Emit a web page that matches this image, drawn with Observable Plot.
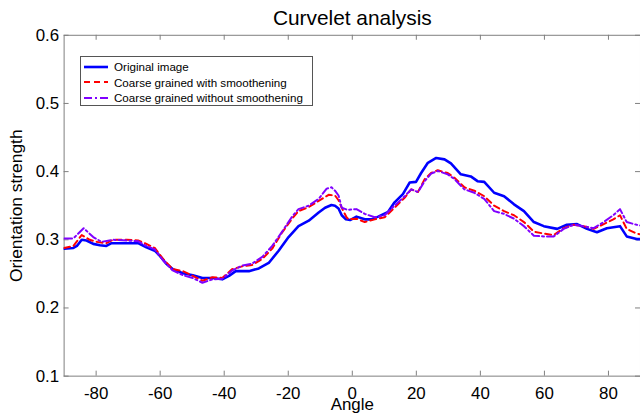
<!DOCTYPE html>
<html>
<head>
<meta charset="utf-8">
<script src="https://cdn.jsdelivr.net/npm/d3@7"></script>
<script src="https://cdn.jsdelivr.net/npm/@observablehq/plot@0.6"></script>
<style>
  html, body { margin: 0; padding: 0; background: #fff; }
  #wrap { position: relative; width: 640px; height: 418px; overflow: hidden; font-family: "Liberation Sans", Arial, sans-serif; }
  #legend { position: absolute; left: 80px; top: 56px; width: 231px; height: 48px; border: 1px solid #555; background: #fff; font-size: 11.6px; }
  #legend .row { position: absolute; left: 3px; height: 15px; display: flex; align-items: center; white-space: nowrap; }
  #legend svg { margin-right: 6px; }
</style>
</head>
<body>
<div id="wrap"><div id="chart"></div><div id="legend"></div></div>
<script>
const titleText = "Curvelet analysis";
const xLabel = "Angle";
const yLabel = "Orientation strength";
const xTicks = [-80, -60, -40, -20, 0, 20, 40, 60, 80];
const yTicks = [0.1, 0.2, 0.3, 0.4, 0.5, 0.6];

const seriesNames = ["Original image", "Coarse grained with smoothening", "Coarse grained without smoothening"];
const seriesColors = ["#0000ff", "#ff0000", "#8000ff"];
const seriesDash = [null, "6,4", "8,3,2,3"];
const seriesWidth = [2.6, 2, 2];

const originalAngle = [-90, -87.1, -86, -84.5, -83, -80.9, -78.8, -76.8, -75.2, -72.6, -70.5, -66.9, -64.3, -61.7, -60.2, -58.1, -56.1, -52.9, -49.8, -46.8, -43.7, -40.6, -38.5, -36.4, -34.4, -32.3, -29.2, -26.1, -23.0, -19.9, -16.8, -13.6, -10.5, -8.5, -6.5, -5.4, -4.3, -3.3, -2.0, -0.7, 1.3, 3.9, 6.0, 8.1, 11.2, 13.2, 15.8, 17.9, 19.9, 21.5, 23.6, 26.2, 28.8, 30.8, 33.9, 37.0, 39.1, 41.2, 44.3, 47.4, 50.5, 53.6, 56.7, 59.8, 64.0, 67.0, 70.2, 73.3, 76.4, 79.5, 83.6, 85.7, 88.8, 90];
const originalValue = [0.287, 0.288, 0.291, 0.300, 0.299, 0.294, 0.292, 0.291, 0.295, 0.295, 0.295, 0.295, 0.289, 0.284, 0.277, 0.265, 0.257, 0.251, 0.248, 0.244, 0.244, 0.242, 0.247, 0.254, 0.254, 0.254, 0.258, 0.266, 0.284, 0.304, 0.320, 0.328, 0.340, 0.347, 0.351, 0.350, 0.346, 0.336, 0.330, 0.329, 0.334, 0.330, 0.330, 0.334, 0.341, 0.355, 0.367, 0.384, 0.385, 0.398, 0.413, 0.420, 0.418, 0.412, 0.396, 0.393, 0.386, 0.385, 0.369, 0.364, 0.352, 0.342, 0.326, 0.320, 0.316, 0.322, 0.323, 0.316, 0.311, 0.317, 0.320, 0.305, 0.301, 0.301];

const smoothAngle = [-90, -87.1, -84.5, -82, -79.9, -76.8, -74.7, -70.5, -66.9, -64.3, -61.7, -59.1, -56.1, -52.9, -49.8, -46.8, -43.7, -40.6, -37.5, -34.4, -31.3, -28.1, -25.0, -21.9, -18.8, -16.8, -13.6, -10.5, -7.4, -5.4, -4.3, -3.3, -1.8, -1.2, 1.3, 3.9, 7.0, 10.1, 13.2, 16.4, 18.4, 20.5, 22.6, 24.6, 26.7, 29.8, 31.9, 35.0, 38.1, 41.2, 44.3, 47.4, 50.5, 53.6, 56.7, 59.8, 62.9, 66.0, 69.1, 72.2, 75.4, 78.5, 81.5, 83.6, 85.7, 88.8, 90];
const smoothValue = [0.288, 0.291, 0.307, 0.300, 0.297, 0.295, 0.300, 0.300, 0.299, 0.294, 0.288, 0.272, 0.257, 0.254, 0.247, 0.240, 0.245, 0.244, 0.257, 0.261, 0.263, 0.272, 0.287, 0.311, 0.331, 0.342, 0.348, 0.357, 0.366, 0.365, 0.358, 0.347, 0.333, 0.330, 0.331, 0.326, 0.330, 0.333, 0.347, 0.362, 0.374, 0.370, 0.389, 0.398, 0.402, 0.398, 0.391, 0.377, 0.372, 0.364, 0.350, 0.342, 0.336, 0.326, 0.312, 0.309, 0.307, 0.317, 0.322, 0.320, 0.316, 0.323, 0.330, 0.336, 0.316, 0.309, 0.308];

const rawAngle = [-90, -87.1, -83.9, -80.9, -78.3, -74.7, -70.5, -66.9, -64.3, -61.7, -59.1, -56.1, -52.9, -49.8, -46.8, -43.7, -40.6, -37.5, -34.4, -31.3, -28.1, -25.0, -21.9, -18.8, -16.8, -13.6, -10.5, -8.0, -6.5, -5.4, -4.3, -3.3, -1.5, 1.3, 3.9, 7.0, 10.1, 13.2, 16.4, 18.4, 20.5, 22.6, 24.6, 26.7, 29.8, 31.9, 35.0, 38.1, 41.2, 44.3, 47.4, 50.5, 53.6, 56.7, 59.8, 62.9, 66.0, 69.1, 72.2, 75.4, 78.5, 81.5, 83.6, 85.7, 88.8, 90];
const rawValue = [0.302, 0.302, 0.317, 0.304, 0.297, 0.300, 0.299, 0.298, 0.291, 0.286, 0.270, 0.255, 0.248, 0.244, 0.237, 0.242, 0.243, 0.255, 0.262, 0.265, 0.275, 0.291, 0.312, 0.334, 0.345, 0.350, 0.360, 0.375, 0.377, 0.372, 0.365, 0.347, 0.344, 0.345, 0.338, 0.333, 0.336, 0.350, 0.364, 0.374, 0.370, 0.386, 0.397, 0.401, 0.396, 0.389, 0.374, 0.369, 0.360, 0.342, 0.338, 0.331, 0.320, 0.306, 0.305, 0.305, 0.316, 0.322, 0.320, 0.317, 0.326, 0.336, 0.345, 0.326, 0.322, 0.321];

const toRows = (a, v) => a.map((x, i) => ({angle: x, value: v[i]}));
const series = [toRows(originalAngle, originalValue), toRows(smoothAngle, smoothValue), toRows(rawAngle, rawValue)];

const W = 644, H = 418, mT = 35, mB = 40, mL = 64, mR = 0;
const innerW = W - mL - mR, innerH = H - mT - mB;
const tickLen = 5;
const gray = "#7f7f7f";
const font = "Liberation Sans, Arial, sans-serif";

const marks = [
  Plot.frame({stroke: gray}),
  Plot.ruleX(xTicks, {x: d => d, stroke: gray, insetBottom: innerH - tickLen}),
  Plot.ruleX(xTicks, {x: d => d, stroke: gray, insetTop: innerH - tickLen}),
  Plot.ruleY(yTicks, {y: d => d, stroke: gray, insetRight: innerW - tickLen}),
  Plot.ruleY(yTicks, {y: d => d, stroke: gray, insetLeft: innerW - tickLen}),
  Plot.axisX(xTicks, {tickSize: 0, tickPadding: 11, fontSize: 17, label: null, tickFormat: d => String(d), fill: "#000"}),
  Plot.axisY(yTicks, {tickSize: 0, tickPadding: 5, fontSize: 17, label: null, tickFormat: d3.format(".1f"), fill: "#000"}),
  ...series.map((rows, i) => Plot.line(rows, {x: "angle", y: "value", stroke: seriesColors[i], strokeWidth: seriesWidth[i], strokeDasharray: seriesDash[i], clip: true})),
  Plot.text([titleText], {text: d => d, frameAnchor: "top", lineAnchor: "middle", textAnchor: "middle", dy: -17, fontSize: 21, fill: "#000"}),
  Plot.text([xLabel], {text: d => d, frameAnchor: "bottom", lineAnchor: "middle", textAnchor: "middle", dy: 29, fontSize: 17, fill: "#000"}),
  Plot.text([yLabel], {text: d => d, frameAnchor: "left", lineAnchor: "middle", textAnchor: "middle", dx: -48, rotate: -90, fontSize: 17.5, fill: "#000"})
];

const chart = Plot.plot({
  width: W, height: H,
  marginTop: mT, marginBottom: mB, marginLeft: mL, marginRight: mR,
  style: {fontFamily: font, background: "#fff", overflow: "visible"},
  x: {domain: [-90, 90], axis: null},
  y: {domain: [0.1, 0.6], axis: null},
  marks
});
document.getElementById("chart").appendChild(chart);

const legend = document.getElementById("legend");
seriesNames.forEach((name, i) => {
  const row = document.createElement("div");
  row.className = "row";
  row.style.top = (2 + i * 15.5) + "px";
  const ns = "http://www.w3.org/2000/svg";
  const s = document.createElementNS(ns, "svg");
  s.setAttribute("width", 24); s.setAttribute("height", 10);
  const ln = document.createElementNS(ns, "line");
  ln.setAttribute("x1", 0); ln.setAttribute("x2", 24); ln.setAttribute("y1", 5); ln.setAttribute("y2", 5);
  ln.setAttribute("stroke", seriesColors[i]);
  ln.setAttribute("stroke-width", seriesWidth[i]);
  if (seriesDash[i]) ln.setAttribute("stroke-dasharray", seriesDash[i]);
  s.appendChild(ln);
  const t = document.createElement("span");
  t.textContent = name;
  row.appendChild(s); row.appendChild(t);
  legend.appendChild(row);
});
</script>
</body>
</html>
